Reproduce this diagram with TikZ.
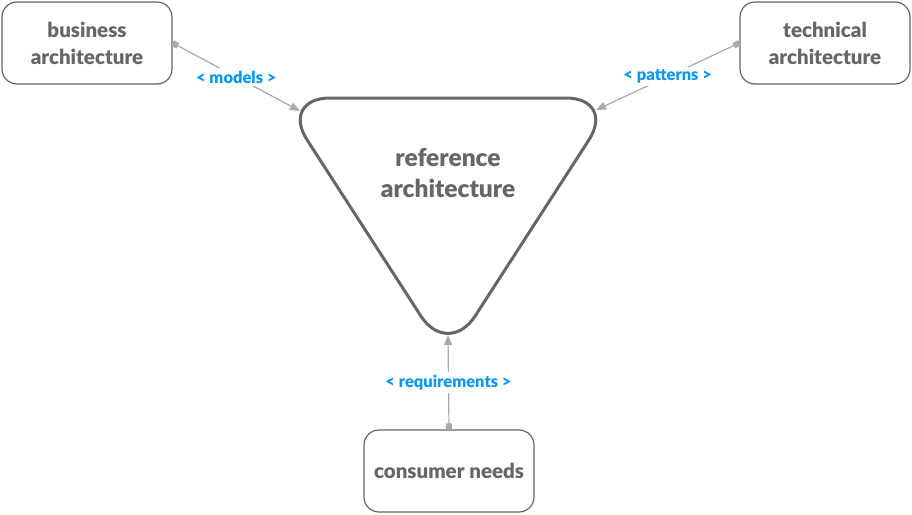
\documentclass[tikz,border=0pt]{standalone}
\usepackage{fontspec}
\setmainfont{Lato}[BoldFont={Lato Black}]
\usetikzlibrary{arrows.meta}
\definecolor{textgray}{HTML}{666666}
\definecolor{linegray}{HTML}{AAAAAA}
\definecolor{labelblue}{HTML}{0A96F5}
\begin{document}
\begin{tikzpicture}[x=1pt, y=-1pt,
    box/.style={draw=textgray, line width=1.2pt, rounded corners=15pt,
        minimum width=170pt, minimum height=82pt, align=center,
        text=textgray, font=\bfseries\fontsize{20.5}{27}\selectfont},
    link/.style={draw=linegray, line width=1.2pt,
        {Square[length=6pt, width=6pt]}-{Triangle[length=10pt, width=8pt]}},
    relation/.style={fill=white, inner sep=3pt, text=labelblue,
        font=\bfseries\fontsize{16.5}{18}\selectfont}]
    \useasboundingbox (0,0) rectangle (912,514);
    \draw[textgray, line width=3pt, rounded corners=50pt]
        (280,98) -- (616,98) -- (448,358) -- cycle;
    \node[text=textgray, align=center, font=\bfseries\fontsize{24.5}{31}\selectfont]
        (reference) at (448,173) {reference\\architecture};
    \coordinate (refW) at (300,111);
    \coordinate (refE) at (596,110);
    \coordinate (refS) at (448,335);
    \node[box] (business) at (87,43) {business\\architecture};
    \node[box] (technical) at (825,43) {technical\\architecture};
    \node[box] (consumer) at (449,471) {consumer needs};
    \draw[link] (business.east) -- node[relation] {< models >} (refW);
    \draw[link] (technical.west) -- node[relation] {< patterns >} (refE);
    \draw[link] (consumer.north) -- node[relation] {< requirements >} (refS);
\end{tikzpicture}
\end{document}
